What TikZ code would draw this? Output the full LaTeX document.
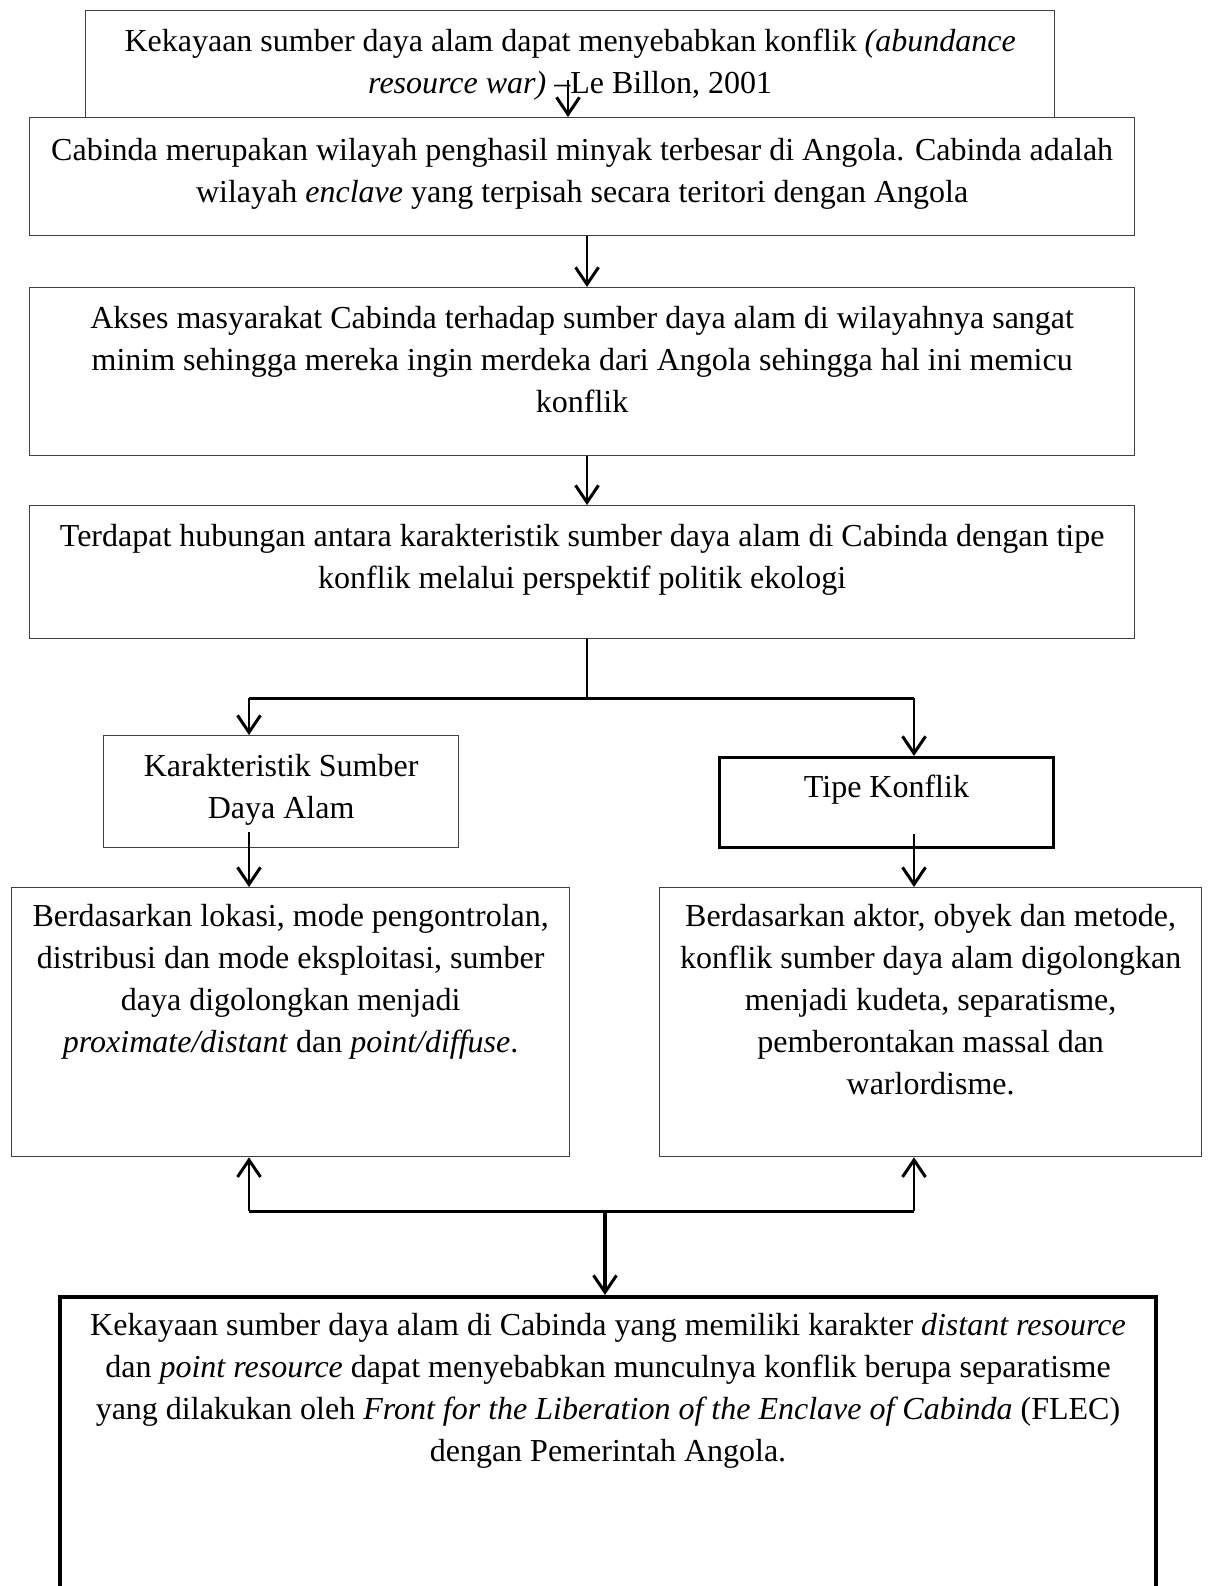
\documentclass[tikz,border=0pt]{standalone}
\usepackage{fontspec}
\setmainfont{Liberation Serif}
\usetikzlibrary{calc}
\usetikzlibrary{positioning}
\usetikzlibrary{arrows.meta}

\begin{document}
\begin{tikzpicture}[x=1pt,y=-1pt,
    box/.style={draw=black!75, line width=1.3pt, inner sep=0pt, anchor=north west},
    txt/.style={inner sep=0pt, align=center, font=\fontsize{32}{42}\selectfont},
    flow/.style={line width=2pt, -{Straight Barb[length=17pt,width=23pt,line width=3pt]}},
    link/.style={line width=3pt}]
    \useasboundingbox (0,0) rectangle (1211,1586);
    \clip (0,0) rectangle (1211,1586);

    \node[box, minimum width=969pt, minimum height=107pt] at (85,10) (source) {};
    \node[txt, below=19pt of source.north] (source-t) {Kekayaan sumber daya alam dapat menyebabkan konflik \textit{(abundance}\\ \textit{resource war)} –Le Billon, 2001};

    \node[box, minimum width=1105pt, minimum height=118pt] at (29,117) (cabinda) {};
    \node[txt, below=21pt of cabinda.north] (cabinda-t) {Cabinda merupakan wilayah penghasil minyak terbesar di Angola. Cabinda adalah\\ wilayah \textit{enclave} yang terpisah secara teritori dengan Angola};

    \node[box, minimum width=1105pt, minimum height=168pt] at (29,287) (akses) {};
    \node[txt, below=19pt of akses.north] (akses-t) {Akses masyarakat Cabinda terhadap sumber daya alam di wilayahnya sangat\\ minim sehingga mereka ingin merdeka dari Angola sehingga hal ini memicu\\ konflik};

    \node[box, minimum width=1105pt, minimum height=133pt] at (29,505) (hubungan) {};
    \node[txt, below=19pt of hubungan.north] (hubungan-t) {Terdapat hubungan antara karakteristik sumber daya alam di Cabinda dengan tipe\\ konflik melalui perspektif politik ekologi};

    \node[box, minimum width=355pt, minimum height=112pt] at (103,735) (karakter) {};
    \node[txt, below=19pt of karakter.north] (karakter-t) {Karakteristik Sumber\\ Daya Alam};

    \node[box, draw=black, line width=3pt, minimum width=334pt, minimum height=90pt] at (718,756) (tipe) {};
    \node[txt, below=19pt of tipe.north] (tipe-t) {Tipe Konflik};

    \node[box, minimum width=558pt, minimum height=269pt] at (11,887) (lokasi) {};
    \node[txt, below=17pt of lokasi.north] (lokasi-t) {Berdasarkan lokasi, mode pengontrolan,\\ distribusi dan mode eksploitasi, sumber\\ daya digolongkan menjadi\\ \textit{proximate/distant} dan \textit{point/diffuse}.};

    \node[box, minimum width=542pt, minimum height=269pt] at (659,887) (aktor) {};
    \node[txt, below=17pt of aktor.north] (aktor-t) {Berdasarkan aktor, obyek dan metode,\\ konflik sumber daya alam digolongkan\\ menjadi kudeta, separatisme,\\ pemberontakan massal dan\\ warlordisme.};

    \node[box, draw=black, line width=4pt, minimum width=1096pt, minimum height=400pt] at (58,1295) (hasil) {};
    \node[txt, below=18pt of hasil.north] (hasil-t) {Kekayaan sumber daya alam di Cabinda yang memiliki karakter \textit{distant resource}\\ dan \textit{point resource} dapat menyebabkan munculnya konflik berupa separatisme\\ yang dilakukan oleh \textit{Front for the Liberation of the Enclave of Cabinda} (FLEC)\\ dengan Pemerintah Angola.};

    \coordinate (src-out) at (568,80);
    \coordinate (mid) at (587,0);
    \coordinate (split) at (587,698);
    \coordinate (join) at (605,1211);
    \coordinate (left) at (249,0);
    \coordinate (right) at (914,0);

    \draw[flow] (src-out) -- (src-out |- cabinda.north);
    \draw[flow] (cabinda.south -| mid) -- (akses.north -| mid);
    \draw[flow] (akses.south -| mid) -- (hubungan.north -| mid);
    \draw[line width=2pt] (hubungan.south -| mid) -- (split);
    \draw[link] (split -| left) -- (split -| right);
    \draw[flow] (split -| left) -- (karakter.north -| left);
    \draw[flow] (split -| right) -- (tipe.north -| right);
    \draw[flow] ($(karakter.south -| left)+(0,-16)$) -- (lokasi.north -| left);
    \draw[flow] ($(tipe.south -| right)+(0,-15)$) -- (aktor.north -| right);

    \draw[link] (join -| left) -- (join -| right);
    \draw[flow] (join -| left) -- (lokasi.south -| left);
    \draw[flow] (join -| right) -- (aktor.south -| right);
    \draw[flow, line width=3.5pt] (join) -- (hasil.north -| join);
\end{tikzpicture}
\end{document}
